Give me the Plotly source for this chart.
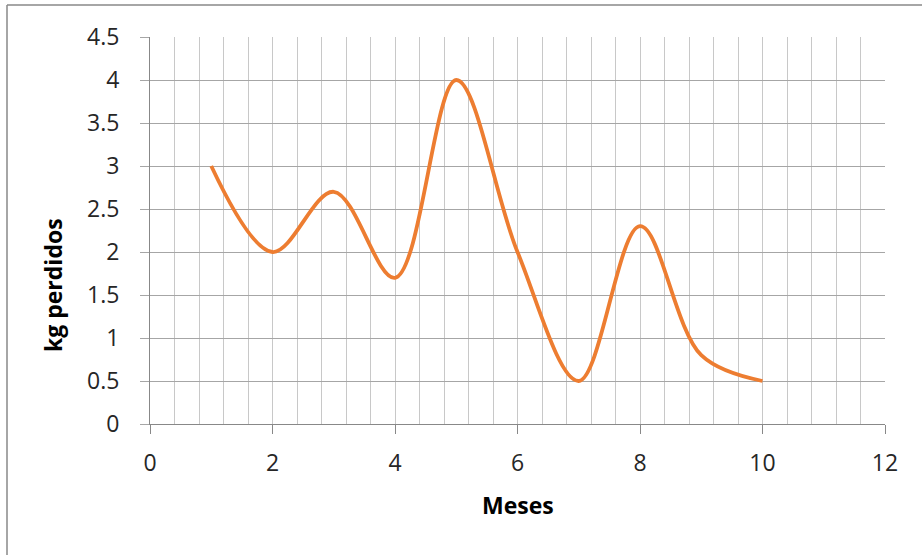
import plotly.graph_objects as go

meses = [1, 2, 3, 4, 5, 6, 7, 8, 9, 10]
kg_perdidos = [3, 2, 2.7, 1.7, 4, 2, 0.5, 2.3, 0.8, 0.5]

x_title = "Meses"
y_title = "kg perdidos"

fig = go.Figure()
fig.add_trace(go.Scatter(
    x=meses, y=kg_perdidos, mode="lines",
    line=dict(color="#ED7D31", width=3.8, shape="spline", smoothing=1),
    hoverinfo="skip", showlegend=False,
))

font_family = "Open Sans, Noto Sans, sans-serif"

fig.update_layout(
    width=922, height=555,
    margin=dict(l=150, r=37, t=37, b=131),
    paper_bgcolor="white", plot_bgcolor="white",
    font=dict(family=font_family, size=23, color="#262626"),
    xaxis=dict(
        range=[0, 12], dtick=2, tick0=0,
        showgrid=True, gridcolor="#C8C8C8", gridwidth=1,
        minor=dict(dtick=0.4, tick0=0, showgrid=True, gridcolor="#C8C8C8", gridwidth=1),
        ticks="outside", ticklen=9, tickcolor="#888888", tickwidth=1,
        ticklabelstandoff=9,
        showline=True, linecolor="#888888", linewidth=1,
        mirror=False, zeroline=False,
        tickfont=dict(size=23, color="#262626"),
        fixedrange=True,
    ),
    yaxis=dict(
        range=[0, 4.5], dtick=0.5, tick0=0,
        showgrid=True, gridcolor="#A6A6A6", gridwidth=1,
        ticks="outside", ticklen=9, tickcolor="#A6A6A6", tickwidth=1,
        ticklabelstandoff=16,
        showline=True, linecolor="#888888", linewidth=1,
        zeroline=False,
        tickfont=dict(size=23, color="#262626"),
        fixedrange=True,
    ),
    annotations=[
        dict(text="<b>" + x_title + "</b>", xref="paper", yref="paper",
             x=0.5, y=(424 - 505) / 387, xanchor="center", yanchor="middle",
             showarrow=False, font=dict(size=23, color="#000000")),
        dict(text="<b>" + y_title + "</b>", xref="paper", yref="paper",
             x=(53 - 150) / 735, y=(424 - 285) / 387, xanchor="center", yanchor="middle",
             textangle=-90,
             showarrow=False, font=dict(size=23, color="#000000")),
    ],
    shapes=[
        dict(type="line", xref="paper", yref="paper",
             x0=(7 - 150) / 735, x1=(930 - 150) / 735,
             y0=(424 - 5) / 387, y1=(424 - 5) / 387,
             line=dict(color="#888888", width=1.5)),
        dict(type="line", xref="paper", yref="paper",
             x0=(7 - 150) / 735, x1=(7 - 150) / 735,
             y0=(424 - 5) / 387, y1=(424 - 560) / 387,
             line=dict(color="#888888", width=1.5)),
    ],
)

fig.write_html("out.html", config={"displayModeBar": False})
